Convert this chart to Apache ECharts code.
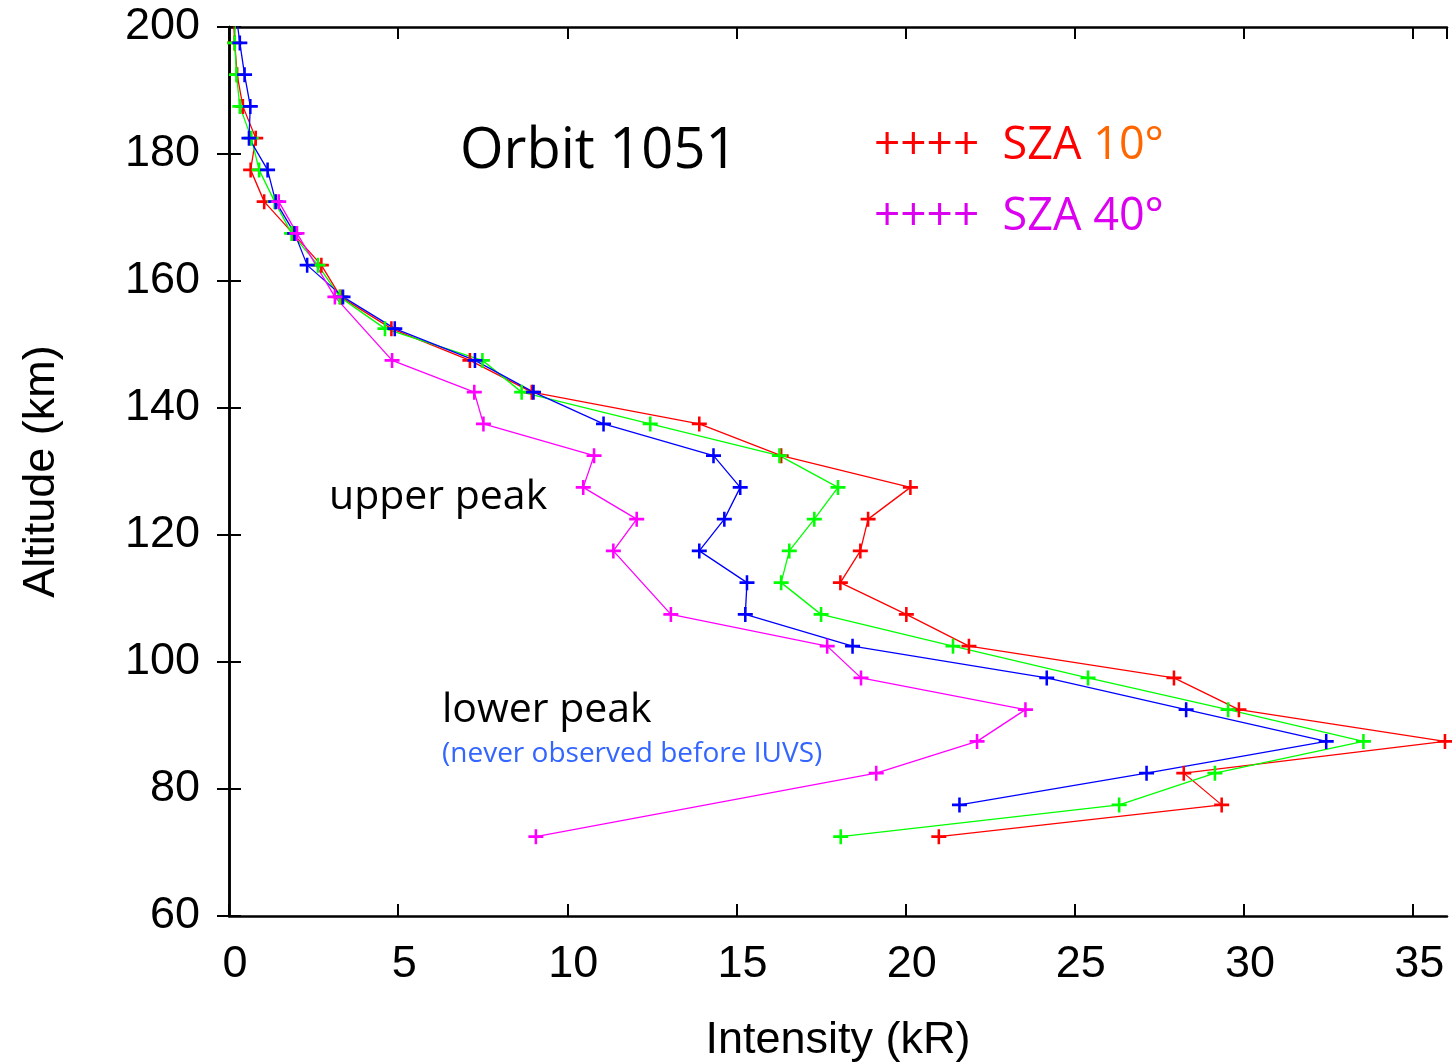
<!DOCTYPE html>
<html>
<head>
<meta charset="utf-8">
<script src="https://cdn.jsdelivr.net/npm/echarts@6/dist/echarts.min.js"></script>
<style>
  html, body {margin: 0; padding: 0; background: #fff;}
  #chart {width: 1452px; height: 1064px;}
</style>
</head>
<body>
<div id="chart"></div>
<script>
// altitude levels (km), one row per level
const altitudes = [202.5, 197.5, 192.5, 187.5, 182.5, 177.5, 172.5, 167.5, 162.5, 157.5,
  152.5, 147.5, 142.5, 137.5, 132.5, 127.5, 122.5, 117.5, 112.5, 107.5,
  102.5, 97.5, 92.5, 87.5, 82.5, 77.5, 72.5];

// intensity (kR) per level, null = no point
const redVals = [0.12, 0.17, 0.24, 0.41, 0.79, 0.64, 1.04, 1.89, 2.73, 3.30,
  4.80, 7.12, 8.95, 13.90, 16.32, 20.14, 18.89, 18.66, 18.07, 20.02,
  21.87, 27.93, 29.85, 35.94, 28.22, 29.34, 20.98];
const greenVals = [0.20, 0.17, 0.22, 0.32, 0.66, 0.89, 1.35, 1.85, 2.63, 3.27,
  4.61, 7.49, 8.65, 12.45, 16.27, 18.00, 17.30, 16.56, 16.32, 17.50,
  21.40, 25.39, 29.53, 33.53, 29.14, 26.31, 18.08];
const blueVals = [0.20, 0.32, 0.46, 0.63, 0.59, 1.14, 1.38, 1.94, 2.31, 3.37,
  4.90, 7.27, 9.00, 11.07, 14.32, 15.11, 14.64, 13.90, 15.31, 15.26,
  18.43, 24.17, 28.29, 32.43, 27.12, 21.59, null];
const magentaVals = [null, null, null, null, null, null, 1.47, 2.01, null, 3.13,
  null, 4.82, 7.25, 7.52, 10.79, 10.47, 12.05, 11.36, null, 13.06,
  17.68, 18.68, 23.54, 22.11, 19.13, null, 9.07];

const xTicks = [0, 5, 10, 15, 20, 25, 30, 35];

const plus = 'path://M8.3,0 H11.7 V8.3 H20 V11.7 H11.7 V20 H8.3 V11.7 H0 V8.3 H8.3 Z';

const pairs = vals => vals
  .map((v, i) => [v, altitudes[i]])
  .filter(p => p[0] !== null);

const makeSeries = (name, vals, color) => ({
  name: name,
  type: 'line',
  data: pairs(vals),
  symbol: plus,
  symbolSize: 15,
  showAllSymbol: true,
  clip: true,
  animation: false,
  lineStyle: {color: color, width: 1.3},
  itemStyle: {color: color},
});

const tickFont = {fontFamily: '"Liberation Sans", Arial, sans-serif', fontSize: 45, color: '#000'};
const axisLine = {show: true, lineStyle: {color: '#000', width: 2.5}};
const axisTick = {show: true, inside: true, length: 12, lineStyle: {color: '#000', width: 2}};

const chart = echarts.init(document.getElementById('chart'));
chart.setOption({
  backgroundColor: '#fff',
  animation: false,
  grid: {left: 229, right: 5, top: 27, bottom: 148, containLabel: false, outerBoundsMode: 'none'},
  xAxis: [{
    type: 'value',
    min: 0,
    max: 36,
    interval: 5,
    position: 'bottom',
    axisLine: axisLine,
    axisTick: axisTick,
    splitLine: {show: false},
    axisLabel: {
      ...tickFont,
      margin: 26,
      showMaxLabel: false,
      padding: [0, 0, 0, 12],
      formatter: v => xTicks.includes(v) ? String(v) : ''
    },
    name: 'Intensity (kR)',
    nameLocation: 'middle',
    nameGap: 102,
    nameTextStyle: tickFont,
  }, {
    type: 'value',
    min: 0,
    max: 36,
    interval: 5,
    position: 'top',
    axisLine: axisLine,
    axisTick: axisTick,
    splitLine: {show: false},
    axisLabel: {show: false},
  }],
  yAxis: [{
    type: 'value',
    min: 60,
    max: 200,
    interval: 20,
    position: 'left',
    axisLine: axisLine,
    axisTick: axisTick,
    splitLine: {show: false},
    axisLabel: {...tickFont, margin: 29},
    name: 'Altitude (km)',
    nameLocation: 'middle',
    nameGap: 165,
    nameTextStyle: tickFont,
  }, {
    type: 'value',
    min: 60,
    max: 200,
    interval: 20,
    position: 'right',
    axisLine: axisLine,
    axisTick: axisTick,
    splitLine: {show: false},
    axisLabel: {show: false},
  }],
  series: [
    makeSeries('red', redVals, '#ff0000'),
    makeSeries('green', greenVals, '#00ff00'),
    makeSeries('blue', blueVals, '#0000ff'),
    makeSeries('magenta', magentaVals, '#ff00ff'),
  ],
  graphic: [
    {
      type: 'text', left: 460, top: 124,
      style: {text: 'Orbit 1051', fill: '#000', font: '56px "Open Sans"'}
    },
    {
      type: 'text', left: 874, top: 123,
      style: {
        text: '{p|++++}{r|  SZA }{o|10°}',
        rich: {
          p: {fill: '#ff0000', font: '46px "Open Sans"'},
          r: {fill: '#ff0000', font: '45px "Open Sans"'},
          o: {fill: '#ff6600', font: '45px "Open Sans"'}
        }
      }
    },
    {
      type: 'text', left: 874, top: 194,
      style: {
        text: '{p|++++}{r|  SZA 40°}',
        rich: {
          p: {fill: '#dc00f0', font: '46px "Open Sans"'},
          r: {fill: '#dc00f0', font: '45px "Open Sans"'}
        }
      }
    },
    {
      type: 'text', left: 329, top: 477,
      style: {text: 'upper peak', fill: '#000', font: '41px "Open Sans"'}
    },
    {
      type: 'text', left: 442, top: 690,
      style: {text: 'lower peak', fill: '#000', font: '41px "Open Sans"'}
    },
    {
      type: 'text', left: 442, top: 740,
      style: {text: '(never observed before IUVS)', fill: '#3366ff', font: '28px "Open Sans"'}
    }
  ]
});
</script>
</body>
</html>
